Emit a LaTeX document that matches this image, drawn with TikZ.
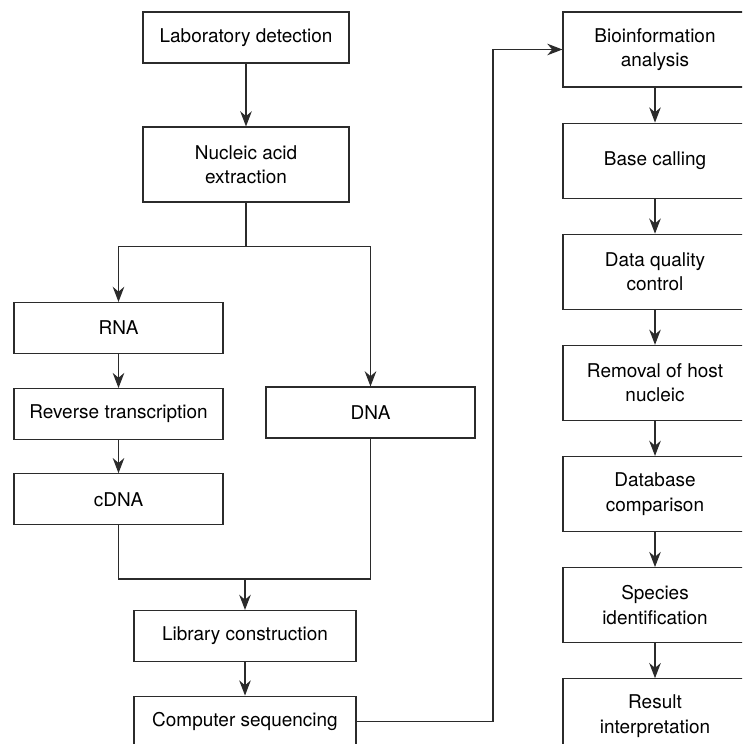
\documentclass[tikz,border=0pt]{standalone}
\usepackage{fontspec}
\setmainfont{TeX Gyre Heros}
\usepackage{xcolor}
\definecolor{linegray}{HTML}{2B2B2B}
\usepackage{tikz}
\usetikzlibrary{arrows.meta,positioning,calc}

\begin{document}
\begin{tikzpicture}[
  font=\fontsize{13.5pt}{17.3pt}\selectfont,
  node distance=0.875cm,
  box/.style={draw=linegray, align=center, line width=0.8pt, fill=white,
              minimum width=5.225cm, minimum height=1.275cm, inner sep=2pt},
  wide/.style={box, minimum width=5.55cm},
  tall/.style={box, minimum width=5.15cm, minimum height=1.875cm},
  pipe/.style={box, minimum width=4.6cm, minimum height=1.875cm},
  arr/.style={-{Stealth[length=3.8mm,width=2.9mm]}, line width=0.8pt, draw=linegray},
  ln/.style={line width=0.8pt, draw=linegray}
]
\useasboundingbox (0,0) rectangle (18.55,-18.6);
\clip (0,0) rectangle (18.55,-18.6);

% wet lab side
\node[tall, minimum height=1.275cm] (lab) at (6.15,-0.9375) {Laboratory detection};
\node[tall] (extract) at (6.15,-4.1125) {Nucleic acid\\extraction};
\node[box] (rna) at (2.9625,-8.2) {RNA};
\node[box, below=0.85cm of rna] (rt) {Reverse transcription};
\node[box] (dna) at (9.2625,-10.3125) {DNA};
\node[box, below=0.825cm of rt] (cdna) {cDNA};
\node[wide] (lib) at (6.125,-15.9) {Library construction};
\node[wide, below=0.8375cm of lib] (seq) {Computer sequencing};

% bioinformatics side
\node[pipe] (bio) at (16.375,-1.2375) {Bioinformation\\analysis};
\node[pipe, below=of bio] (call) {Base calling};
\node[pipe, below=of call] (qc) {Data quality\\control};
\node[pipe, below=of qc] (host) {Removal of host\\nucleic};
\node[pipe, below=of host] (db) {Database\\comparison};
\node[pipe, below=of db] (species) {Species\\identification};
\node[pipe, below=of species] (result) {Result\\interpretation};

\coordinate (fork) at ($(extract.south)+(0,-1.1)$);
\coordinate (join) at (lib.north |- 0,-14.475);
\coordinate (rail) at (12.325,0);

\draw[arr] (lab) -- (extract);
\draw[ln] (extract.south) -- (fork);
\draw[arr] (fork) -| (rna.north);
\draw[arr] (fork) -| (dna.north);
\draw[arr] (rna) -- (rt);
\draw[arr] (rt) -- (cdna);
\draw[ln] (cdna.south) |- (join);
\draw[ln] (dna.south) |- (join);
\draw[arr] (join) -- (lib.north);
\draw[arr] (lib) -- (seq);
\draw[arr] (seq.east) -| (rail |- bio.west) -- (bio.west);
\foreach \a/\b in {bio/call, call/qc, qc/host, host/db, db/species, species/result}
  \draw[arr] (\a) -- (\b);
\end{tikzpicture}
\end{document}
